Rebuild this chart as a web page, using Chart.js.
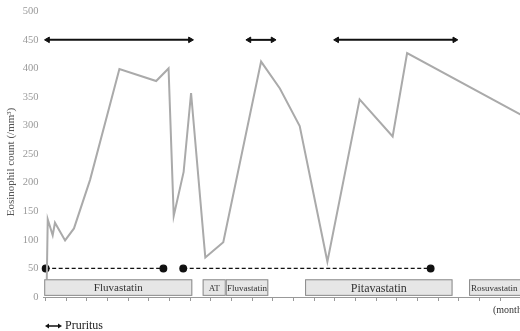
<!DOCTYPE html>
<html>
<head>
<meta charset="utf-8">
<script src="https://cdn.jsdelivr.net/npm/chart.js@4/dist/chart.umd.min.js"></script>
<style>
  html, body { margin: 0; padding: 0; background: #fff; overflow: hidden; }
  #wrap { width: 526px; height: 331px; position: relative; }
</style>
</head>
<body>
<div id="wrap"><canvas id="chart"></canvas></div>
<script>
// eosinophil count over time (x = months)
const months = [0.05, 0.1, 0.34, 0.45, 0.94, 1.37, 2.15, 3.57, 5.35, 5.95, 6.2, 6.68, 7.04, 7.73, 8.6, 10.43, 11.34, 12.3, 13.64, 15.2, 16.8, 17.5, 23.0];
const eosinophil = [20, 136, 108, 130, 99, 120, 205, 399, 378, 400, 142, 219, 357, 69, 96, 412, 365, 299, 62, 346, 281, 427, 319];

// pruritus periods (arrows at 450)
const pruritusStart = [0.1, 9.85, 14.1];
const pruritusEnd = [7.0, 11.0, 19.8];
const pruritusLevel = 450;

// dashed periods at 50
const dashStart = [0, 6.66];
const dashEnd = [5.7, 18.64];
const dashLevel = 50;

// drug boxes
const drugNames = ["Fluvastatin", "AT", "Fluvastatin", "Pitavastatin", "Rosuvastatin"];
const drugStart = [-0.07, 7.6, 8.72, 12.56, 20.5];
const drugEnd = [7.1, 8.72, 10.78, 19.7, 23.5];
const drugFont = [11, 9, 9, 12, 9];

const yTicks = [0, 50, 100, 150, 200, 250, 300, 350, 400, 450, 500];
const monthTicks = [];
for (let m = 0; m <= 23; m++) monthTicks.push(m);

const serif = "'Liberation Serif', 'DejaVu Serif', serif";

const datasets = [
  {
    data: months.map((m, i) => ({ x: m, y: eosinophil[i] })),
    borderColor: "#aaaaaa",
    borderWidth: 2,
    pointRadius: 0,
    tension: 0,
  },
];

pruritusStart.forEach((s, i) => {
  datasets.push({
    data: [{ x: s, y: pruritusLevel }, { x: pruritusEnd[i], y: pruritusLevel }],
    borderColor: "#111",
    backgroundColor: "#111",
    borderWidth: 2,
    pointStyle: "triangle",
    pointRadius: 3.2,
    pointBorderWidth: 1,
    pointRotation: [-90, 90],
  });
});

dashStart.forEach((s, i) => {
  datasets.push({
    data: [{ x: s, y: dashLevel }, { x: dashEnd[i], y: dashLevel }],
    borderColor: "#111",
    backgroundColor: "#111",
    borderWidth: 1.3,
    borderDash: [4, 2.5],
    pointStyle: "circle",
    pointRadius: 3.3,
  });
});

// boxes for drugs, plus labels
const drugBoxes = {
  id: "drugBoxes",
  afterDatasetsDraw(chart) {
    const { ctx, scales } = chart;
    const x = scales.x, y = scales.y;
    ctx.save();
    drugNames.forEach((name, i) => {
      const x0 = x.getPixelForValue(drugStart[i]);
      const x1 = x.getPixelForValue(drugEnd[i]);
      const y0 = y.getPixelForValue(31);
      const y1 = y.getPixelForValue(2);
      ctx.fillStyle = "#e6e6e6";
      ctx.fillRect(x0, y0, x1 - x0, y1 - y0);
      ctx.strokeStyle = "#8a8a8a";
      ctx.lineWidth = 1;
      ctx.strokeRect(x0 + 0.5, y0 + 0.5, x1 - x0 - 1, y1 - y0 - 1);
      ctx.fillStyle = "#333";
      ctx.font = drugFont[i] + "px " + serif;
      ctx.textBaseline = "middle";
      if (name === "Rosuvastatin") {
        ctx.textAlign = "left";
        ctx.fillText(name, x0 + 2, (y0 + y1) / 2 + 1);
      } else {
        ctx.textAlign = "center";
        ctx.fillText(name, (x0 + x1) / 2, (y0 + y1) / 2 + 1);
      }
    });

    // "(month)" label
    ctx.fillStyle = "#333";
    ctx.font = "10px " + serif;
    ctx.textAlign = "left";
    ctx.textBaseline = "middle";
    ctx.fillText("(month)", 493, 310);

    // y title
    ctx.save();
    ctx.translate(11, 162);
    ctx.rotate(-Math.PI / 2);
    ctx.fillStyle = "#555";
    ctx.font = "11px " + serif;
    ctx.textAlign = "center";
    ctx.fillText("Eosinophil count (/mm³)", 0, 0);
    ctx.restore();

    // pruritus legend
    ctx.strokeStyle = "#111";
    ctx.fillStyle = "#111";
    ctx.lineWidth = 1.5;
    ctx.beginPath();
    ctx.moveTo(47, 326);
    ctx.lineTo(60, 326);
    ctx.stroke();
    [[45, 1], [62, -1]].forEach(([px, d]) => {
      ctx.beginPath();
      ctx.moveTo(px, 326);
      ctx.lineTo(px + 4 * d, 323.5);
      ctx.lineTo(px + 4 * d, 328.5);
      ctx.closePath();
      ctx.fill();
    });
    ctx.fillStyle = "#222";
    ctx.font = "12px " + serif;
    ctx.textAlign = "left";
    ctx.fillText("Pruritus", 65, 326);
    ctx.restore();
  },
};

new Chart(document.getElementById("chart"), {
  type: "line",
  data: { datasets },
  plugins: [drugBoxes],
  options: {
    responsive: true,
    maintainAspectRatio: false,
    animation: false,
    events: [],
    clip: false,
    layout: { padding: { top: 6, right: 0, left: 0, bottom: 0 } },
    plugins: { legend: { display: false }, tooltip: { enabled: false } },
    scales: {
      x: {
        type: "linear",
        min: -0.1,
        max: 23,
        afterBuildTicks: (s) => { s.ticks = monthTicks.map((v) => ({ value: v })); },
        afterFit: (s) => { s.height = 34; },
        ticks: { display: false },
        grid: { drawOnChartArea: false, tickLength: 4, color: "#999" },
        border: { color: "#999", width: 1 },
      },
      y: {
        min: 0,
        max: 500,
        afterBuildTicks: (s) => { s.ticks = yTicks.map((v) => ({ value: v })); },
        afterFit: (s) => { s.width = 43.6; },
        ticks: {
          color: "#999",
          font: { family: serif, size: 10.5 },
          padding: 5,
        },
        grid: { display: false, drawTicks: false },
        border: { display: false },
      },
    },
  },
});
</script>
</body>
</html>
